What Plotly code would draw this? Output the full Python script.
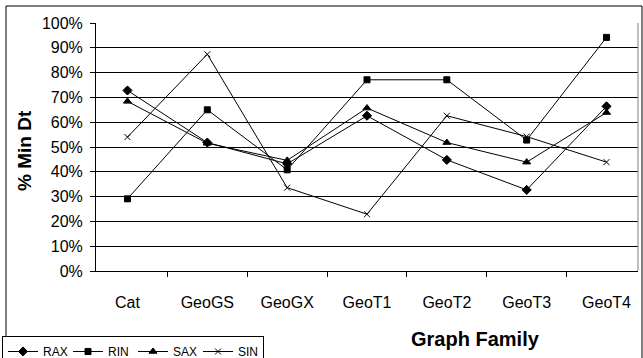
import plotly.graph_objects as go

categories = ["Cat", "GeoGS", "GeoGX", "GeoT1", "GeoT2", "GeoT3", "GeoT4"]
rax = [72.8, 51.8, 43.2, 62.6, 44.8, 32.7, 66.4]
rin = [29.1, 65.0, 40.8, 77.1, 77.1, 52.8, 94.2]
sax = [68.4, 51.5, 44.6, 65.7, 51.8, 43.9, 63.9]
sin = [54.0, 87.4, 33.6, 22.9, 62.6, 54.2, 43.9]
y_ticks = list(range(0, 101, 10))

series = [
    ("RAX", rax, "diamond", 7),
    ("RIN", rin, "square", 6),
    ("SAX", sax, "triangle-up", 7),
    ("SIN", sin, "x-thin", 6),
]

fig = go.Figure()
for name, vals, sym, sz in series:
    fig.add_trace(go.Scatter(
        x=categories, y=vals, name=name, mode="lines+markers",
        line=dict(color="black", width=1),
        marker=dict(symbol=sym, size=sz, color="black",
                    line=dict(color="black", width=1)),
    ))

W, H = 643, 358
L, R, T, B = 96, 5, 23, 87
pw, ph = W - L - R, H - T - B

def px_x(p):
    return (p - L) / pw

def px_y(p):
    return (H - B - p) / ph

font = "Liberation Sans, Arial, sans-serif"

fig.update_layout(
    width=W, height=H,
    margin=dict(l=L, r=R, t=T, b=B, autoexpand=False),
    paper_bgcolor="white", plot_bgcolor="white",
    font=dict(family=font, size=16, color="black"),
    showlegend=True,
    legend=dict(
        orientation="h", x=px_x(2), y=px_y(336), xanchor="left", yanchor="top",
        bordercolor="black", borderwidth=1, bgcolor="white",
        font=dict(size=12, family=font), entrywidth=20,
        itemwidth=30,
    ),
    xaxis=dict(
        type="category", showgrid=False, showline=True, linecolor="black",
        linewidth=1, ticks="outside", ticklen=5, tickcolor="black",
        tickson="boundaries", ticklabelstandoff=17,
        tickfont=dict(size=16), zeroline=False, automargin=False,
    ),
    yaxis=dict(
        range=[0, 100], tickvals=y_ticks, ticktext=[f"{v}%" for v in y_ticks],
        showgrid=True, gridcolor="black", gridwidth=1,
        showline=True, linecolor="black", linewidth=1,
        ticks="outside", ticklen=5, tickcolor="black", ticklabelstandoff=4,
        tickfont=dict(size=16), zeroline=False, automargin=False,
    ),
    shapes=[
        dict(type="rect", xref="paper", yref="paper",
             x0=px_x(6), x1=px_x(642), y0=px_y(365), y1=px_y(6),
             line=dict(color="black", width=1), layer="below"),
        dict(type="line", xref="paper", yref="paper",
             x0=1, x1=1, y0=0, y1=1, line=dict(color="#808080", width=1)),
    ],
    annotations=[
        dict(text="<b>Graph Family</b>", xref="paper", yref="paper",
             x=px_x(475.5), y=px_y(339), xanchor="center", yanchor="middle",
             showarrow=False, font=dict(size=20, family=font)),
        dict(text="<b>% Min Dt</b>", xref="paper", yref="paper",
             x=px_x(24), y=px_y(151), xanchor="center", yanchor="middle",
             textangle=-90, showarrow=False, font=dict(size=19, family=font)),
    ],
)

fig.write_html("out.html")
